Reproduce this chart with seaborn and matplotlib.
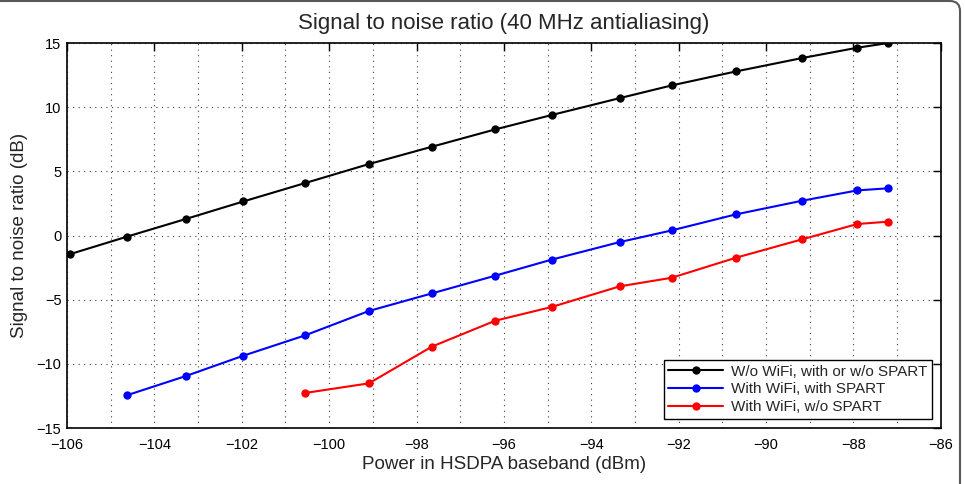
import numpy as np
import matplotlib
matplotlib.use('Agg')
import matplotlib.pyplot as plt
from matplotlib.patches import FancyBboxPatch
import pandas as pd
import seaborn as sns

# values
power_black = [-105.92, -104.63, -103.28, -101.96, -100.55, -99.09, -97.65, -96.20,
               -94.91, -93.35, -92.16, -90.69, -89.18, -87.91, -87.21]
snr_black = [-1.44, -0.09, 1.29, 2.66, 4.09, 5.57, 6.92, 8.27,
             9.39, 10.71, 11.70, 12.79, 13.83, 14.64, 15.0]

power_blue = power_black[1:]
snr_blue = [-12.45, -10.95, -9.36, -7.78, -5.88, -4.51, -3.13,
            -1.88, -0.51, 0.40, 1.65, 2.71, 3.52, 3.68]

power_red = power_black[4:]
snr_red = [-12.27, -11.52, -8.66, -6.64, -5.57, -3.96, -3.29,
           -1.73, -0.30, 0.90, 1.08]

labels = ['W/o WiFi, with or w/o SPART', 'With WiFi, with SPART', 'With WiFi, w/o SPART']
colors = ['black', 'blue', 'red']

sns.set_style('white')
plt.rcParams['font.family'] = ['Liberation Sans', 'DejaVu Sans']

df = pd.concat([
    pd.DataFrame({'power': power_black, 'snr': snr_black, 'series': labels[0]}),
    pd.DataFrame({'power': power_blue, 'snr': snr_blue, 'series': labels[1]}),
    pd.DataFrame({'power': power_red, 'snr': snr_red, 'series': labels[2]}),
], ignore_index=True)

fig = plt.figure(figsize=(9.65, 4.84), dpi=100)
ax = fig.add_axes([0.0694, 0.1157, 0.9056, 0.7953])

sns.lineplot(data=df, x='power', y='snr', hue='series', hue_order=labels,
             palette=colors, marker='o', markersize=6, markeredgewidth=0,
             linewidth=1.5, sort=False, ax=ax)

ax.set_xlim(-106, -86)
ax.set_ylim(-15, 15)
ax.set_xticks(np.arange(-106, -85, 2))
ax.set_xticks(np.arange(-106, -85, 1), minor=True)
ax.set_yticks(np.arange(-15, 16, 5))
ax.set_xticklabels([f'\u2212{abs(v)}' for v in range(-106, -85, 2)])
ax.set_yticklabels([f'\u2212{abs(v)}' if v < 0 else str(v) for v in range(-15, 16, 5)])
ax.grid(True, which='major', axis='both', color='0.25', linestyle=(0, (1, 4)), linewidth=0.8)
ax.grid(True, which='minor', axis='x', color='0.25', linestyle=(0, (1, 4)), linewidth=0.8)
ax.tick_params(which='major', direction='in', length=6, width=1, top=True, right=True,
               labelsize=10.5, colors='black')
ax.tick_params(axis='x', which='major', pad=7)
ax.tick_params(axis='y', which='major', pad=4)
ax.tick_params(which='minor', length=0)
for s in ax.spines.values():
    s.set_color('black')
    s.set_linewidth(1.2)

ax.set_title('Signal to noise ratio (40 MHz antialiasing)', fontsize=16, pad=10)
ax.set_xlabel('Power in HSDPA baseband (dBm)', fontsize=13.5, labelpad=3)
ax.set_ylabel('Signal to noise ratio (dB)', fontsize=13.5, labelpad=6)

leg = ax.legend(loc='lower right', fontsize=11, frameon=True, fancybox=False,
                edgecolor='black', framealpha=1, borderpad=0.3, labelspacing=0.25,
                handlelength=3.6, handletextpad=0.5, borderaxespad=0.6)
leg.get_frame().set_linewidth(1.0)

# rounded frame around the figure, as in the source page
frame = FancyBboxPatch((-9, -40), 969, 523, boxstyle='round,pad=0,rounding_size=10',
                       transform=None, fill=False, edgecolor='0.35', linewidth=1.5)
fig.patches.append(frame)

fig.savefig('out.png', dpi=100)
